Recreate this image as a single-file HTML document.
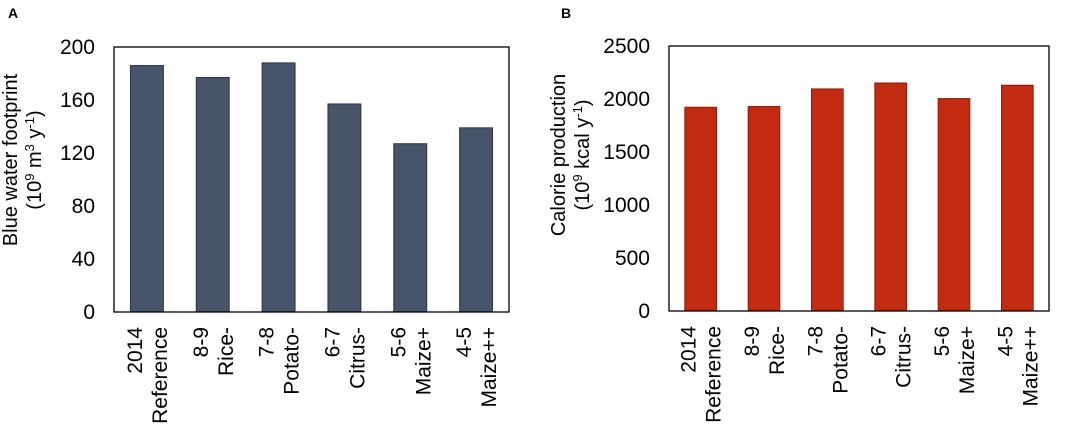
<!DOCTYPE html>
<html><head><meta charset="utf-8"><style>
html,body{margin:0;padding:0;background:#fff;}
svg{display:block;font-family:"Liberation Sans",Arial,sans-serif;}
</style></head><body>
<svg id="chart" width="1084" height="426" viewBox="0 0 1084 426">
<text x="8" y="18" font-size="14" font-weight="bold">A</text>
<text x="561" y="18" font-size="14" font-weight="bold">B</text>
</svg>
<script>
const categoriesTop = ["2014","8-9","7-8","6-7","5-6","4-5"];
const categoriesBottom = ["Reference","Rice-","Potato-","Citrus-","Maize+","Maize++"];
const waterValues = [186,177,188,157,127,139];
const calorieValues = [1922,1929,2095,2151,2004,2130];
const waterTicks = [0,40,80,120,160,200];
const calorieTicks = [0,500,1000,1500,2000,2500];

const svg = document.getElementById('chart');
const NS = 'http://www.w3.org/2000/svg';
function mk(tag, attrs){const e=document.createElementNS(NS,tag);for(const k in attrs)e.setAttribute(k,attrs[k]);svg.appendChild(e);return e;}

function panel(p){
  const yScale = v => p.y1 - (v - p.min)/(p.max - p.min)*(p.y1 - p.y0);
  const band = (p.x1 - p.x0)/p.values.length;
  const xCenter = i => p.x0 + band*(i+0.5);
  p.values.forEach((v,i)=>{
    const bw = band*0.5;
    const r = mk('rect',{x:xCenter(i)-bw/2,y:yScale(v),width:bw,height:yScale(p.min)-yScale(v),fill:p.fill,stroke:p.stroke,'stroke-width':1});
    
    
    const t = mk('text',{transform:`translate(${xCenter(i)-5},${p.y1+15}) rotate(-90)`,'font-size':21,'text-anchor':'end',fill:'#000'});
    t.innerHTML = `<tspan x="0" dy="0">${categoriesTop[i]}</tspan><tspan x="0" dy="25">${categoriesBottom[i]}</tspan>`;
    
    
  });
  p.ticks.forEach(tv=>{
    const t = mk('text',{x:p.x0-19,y:yScale(tv)+7,'font-size':21,'text-anchor':'end',fill:'#000'});
    t.textContent = tv;
    
    
  });
  const box = mk('rect',{x:p.x0,y:p.y0,width:p.x1-p.x0,height:p.y1-p.y0,fill:'none',stroke:'#000','stroke-width':1.3});
  
  
  const yt = mk('text',{transform:`translate(${p.tx},${p.ty}) rotate(-90)`,'font-size':20,'text-anchor':'middle',fill:'#000'});
  yt.innerHTML = p.title;
  
  
}

panel({id:'water',values:waterValues,ticks:waterTicks,min:0,max:200,x0:114,x1:509,y0:47,y1:312,fill:'#465569',stroke:'#2a3340',tx:17,ty:160,
  title:'<tspan x="0" dy="0">Blue water footprint</tspan><tspan x="0" dy="24">(10<tspan baseline-shift="super" font-size="13">9</tspan> m<tspan baseline-shift="super" font-size="13">3</tspan> y<tspan baseline-shift="super" font-size="13">-1</tspan>)</tspan>'});
panel({id:'calorie',values:calorieValues,ticks:calorieTicks,min:0,max:2500,x0:669,x1:1049,y0:46,y1:311,fill:'#c22b12',stroke:'#8b1a0a',tx:565,ty:155,
  title:'<tspan x="0" dy="0">Calorie production</tspan><tspan x="0" dy="24">(10<tspan baseline-shift="super" font-size="13">9</tspan> kcal y<tspan baseline-shift="super" font-size="13">-1</tspan>)</tspan>'});
</script>
</body></html>
